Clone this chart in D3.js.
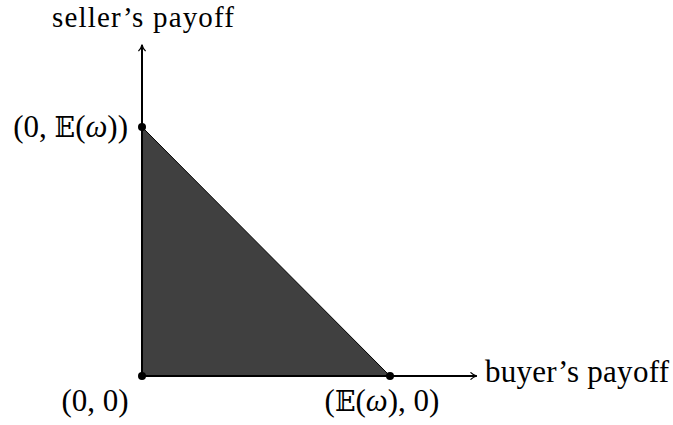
<!DOCTYPE html>
<html>
<head>
<meta charset="utf-8">
<script src="https://d3js.org/d3.v7.min.js"></script>
<style>
  body { margin: 0; background: white; }
  text { font-family: 'Liberation Serif', 'Times New Roman', serif; fill: #000; }
</style>
</head>
<body>
<div id="chart"></div>
<script>
var width = 673, height = 425;

// payoff pairs (buyer, seller), in units of E(omega)
var vertices = [[0, 0], [1, 0], [0, 1]];
var points = [
  {x: 0, y: 0, label: "(0, 0)"},
  {x: 1, y: 0, label: "(E(ω), 0)"},
  {x: 0, y: 1, label: "(0, E(ω))"}
];
var axisMax = {x: 1.35, y: 1.33};
var axisNames = {x: "buyer\u2019s payoff", y: "seller\u2019s payoff"};

var x = d3.scaleLinear().domain([0, 1]).range([142, 390]);
var y = d3.scaleLinear().domain([0, 1]).range([376, 127]);

var svg = d3.select("#chart").append("svg").attr("width", width).attr("height", height);

var defs = svg.append("defs");
defs.append("marker")
  .attr("id", "arrow")
  .attr("viewBox", "0 0 10 10")
  .attr("refX", 9).attr("refY", 5)
  .attr("markerWidth", 9).attr("markerHeight", 9)
  .attr("markerUnits", "userSpaceOnUse")
  .attr("orient", "auto")
  .append("path")
  .attr("d", "M2,1 Q5,4 9,5 Q5,6 2,9")
  .attr("fill", "none").attr("stroke", "#000").attr("stroke-width", 1.4);

// feasible region
svg.append("path")
  .datum(vertices)
  .attr("d", d3.line().x(function(d) { return x(d[0]); }).y(function(d) { return y(d[1]); }).curve(d3.curveLinearClosed))
  .attr("fill", "#404040")
  .attr("stroke", "#000")
  .attr("stroke-width", 1);

// axes
svg.append("line")
  .attr("x1", x(0)).attr("y1", y(0)).attr("x2", x(axisMax.x)).attr("y2", y(0))
  .attr("stroke", "#000").attr("stroke-width", 2).attr("marker-end", "url(#arrow)");
svg.append("line")
  .attr("x1", x(0)).attr("y1", y(0)).attr("x2", x(0)).attr("y2", y(axisMax.y))
  .attr("stroke", "#000").attr("stroke-width", 2).attr("marker-end", "url(#arrow)");

svg.append("text")
  .attr("x", 485).attr("y", 382)
  .attr("font-size", 31)
  .attr("textLength", 184)
  .text(axisNames.x);
svg.append("text")
  .attr("x", 52).attr("y", 27)
  .attr("font-size", 29)
  .attr("textLength", 182)
  .text(axisNames.y);

// points
svg.selectAll("circle.pt")
  .data(points)
  .enter().append("circle")
  .attr("class", "pt")
  .attr("cx", function(d) { return x(d.x); })
  .attr("cy", function(d) { return y(d.y); })
  .attr("r", 4)
  .attr("fill", "#000");

// labels with blackboard E and italic omega
function mathLabel(sel, d) {
  var parts = d.label.split(/(E|ω)/);
  parts.forEach(function(p) {
    if (p === "") return;
    var t = sel.append("tspan");
    if (p === "E") t.text("\uD835\uDD3C").attr("font-family", "DejaVu Serif").attr("font-size", 27);
    else if (p === "ω") t.text("ω").attr("font-style", "italic");
    else t.text(p);
  });
}

var labelPos = [
  {dx: -47, dy: 35, anchor: "middle"},
  {dx: -8, dy: 35, anchor: "middle"},
  {dx: -14, dy: 10, anchor: "end"}
];

svg.selectAll("text.lbl")
  .data(points)
  .enter().append("text")
  .attr("class", "lbl")
  .attr("font-size", 31)
  .attr("x", function(d, i) { return x(d.x) + labelPos[i].dx; })
  .attr("y", function(d, i) { return y(d.y) + labelPos[i].dy; })
  .attr("text-anchor", function(d, i) { return labelPos[i].anchor; })
  .each(function(d) { mathLabel(d3.select(this), d); });
</script>
</body>
</html>
